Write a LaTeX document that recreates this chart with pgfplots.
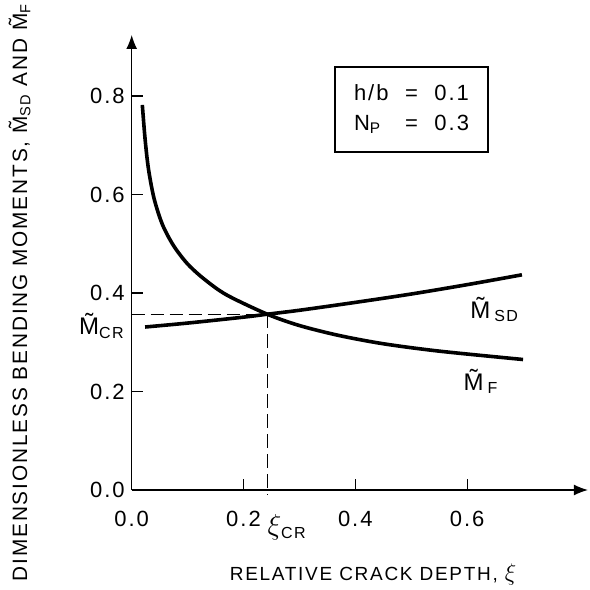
\documentclass[border=0pt]{standalone}
\usepackage{fontspec}
\setmainfont{Liberation Sans}[LetterSpace=9]
\usepackage{pgfplots}
\pgfplotsset{compat=1.18}
\usetikzlibrary{arrows.meta}
\newcommand\tM{\~{M}}
\begin{document}
\begin{tikzpicture}
\begin{axis}[
  scale only axis,
  width=228.1pt, height=227.5pt,
  xmin=0, xmax=0.816, ymin=0, ymax=0.924,
  axis lines=left,
  axis line style={line width=0.6pt, -{Latex[length=7pt,width=5.5pt]}},
  tick align=inside,
  major tick length=5.5pt,
  tick style={line width=0.6pt, black},
  xtick={0,0.2,0.4,0.6},
  ytick={0,0.2,0.4,0.6,0.8},
  /pgf/number format/assume math mode=true,
  /pgf/number format/.cd, fixed, zerofill, precision=1,
  /pgfplots/.cd,
  ticklabel style={font=\fontsize{11}{13}\selectfont},
  xticklabel style={yshift=-7pt},
  clip=false,
]
\addplot[line width=1.8pt, smooth] coordinates {
(0.019,0.782) (0.024,0.712) (0.030,0.652) (0.040,0.592) (0.055,0.539)
(0.075,0.496) (0.100,0.459) (0.130,0.428) (0.170,0.396) (0.2425,0.357)
(0.300,0.334) (0.370,0.314) (0.450,0.297) (0.550,0.282) (0.700,0.265)};
\addplot[line width=1.8pt, smooth] coordinates {
(0.024,0.331) (0.100,0.339) (0.200,0.351) (0.2425,0.357) (0.300,0.365)
(0.400,0.381) (0.500,0.398) (0.600,0.417) (0.698,0.437)};
\addplot[line width=0.6pt, dash pattern=on 6.5pt off 3pt] coordinates {(0,0.357) (0.2425,0.357)};
\addplot[line width=0.6pt, dash pattern=on 7pt off 3pt] coordinates {(0.2425,0.357) (0.2425,-0.01)};
\node[anchor=base west, inner sep=0pt, font=\fontsize{12}{14}\selectfont] at (axis cs:0.605,0.349) {\tM\,\textsubscript{SD}};
\node[anchor=base west, inner sep=0pt, font=\fontsize{12}{14}\selectfont] at (axis cs:0.593,0.203) {\tM\,\textsubscript{F}};
\node[anchor=base east, inner sep=0pt, font=\fontsize{12}{14}\selectfont] at (axis cs:-0.012,0.315) {\tM\textsubscript{CR}};
\node[anchor=base west, inner sep=0pt, font=\fontsize{12}{14}\selectfont] at (axis cs:0.2422,-0.091) {{\fontsize{15}{17}\selectfont$\xi$}\textsubscript{CR}};
\node[anchor=base, inner sep=0pt, font=\fontsize{9.5}{11}\selectfont] at (axis cs:0.4317,-0.184) {RELATIVE CRACK DEPTH, {\fontsize{12.5}{14}\selectfont$\xi$}};
\node[anchor=base, rotate=90, inner sep=0pt, font=\fontsize{10.4}{12}\selectfont] at (axis cs:-0.187,0.401) {DIMENSIONLESS BENDING MOMENTS, \tM\textsubscript{SD} AND \tM\textsubscript{F}};
\node[draw, line width=0.6pt, minimum width=76.5pt, minimum height=42.5pt, inner sep=0pt, font=\fontsize{11}{13}\selectfont] at (axis cs:0.5005,0.7726) {\renewcommand\arraystretch{1.15}\begin{tabular}{@{}l@{\hspace{0.75em}}c@{\hspace{0.75em}}l@{}}h/b & = & 0.1\\ N\textsubscript{P} & = & 0.3\end{tabular}};
\end{axis}
\pgfresetboundingbox
\path[use as bounding box] (-65.85pt,-50pt) rectangle (229.15pt,245pt);
\end{tikzpicture}
\end{document}
